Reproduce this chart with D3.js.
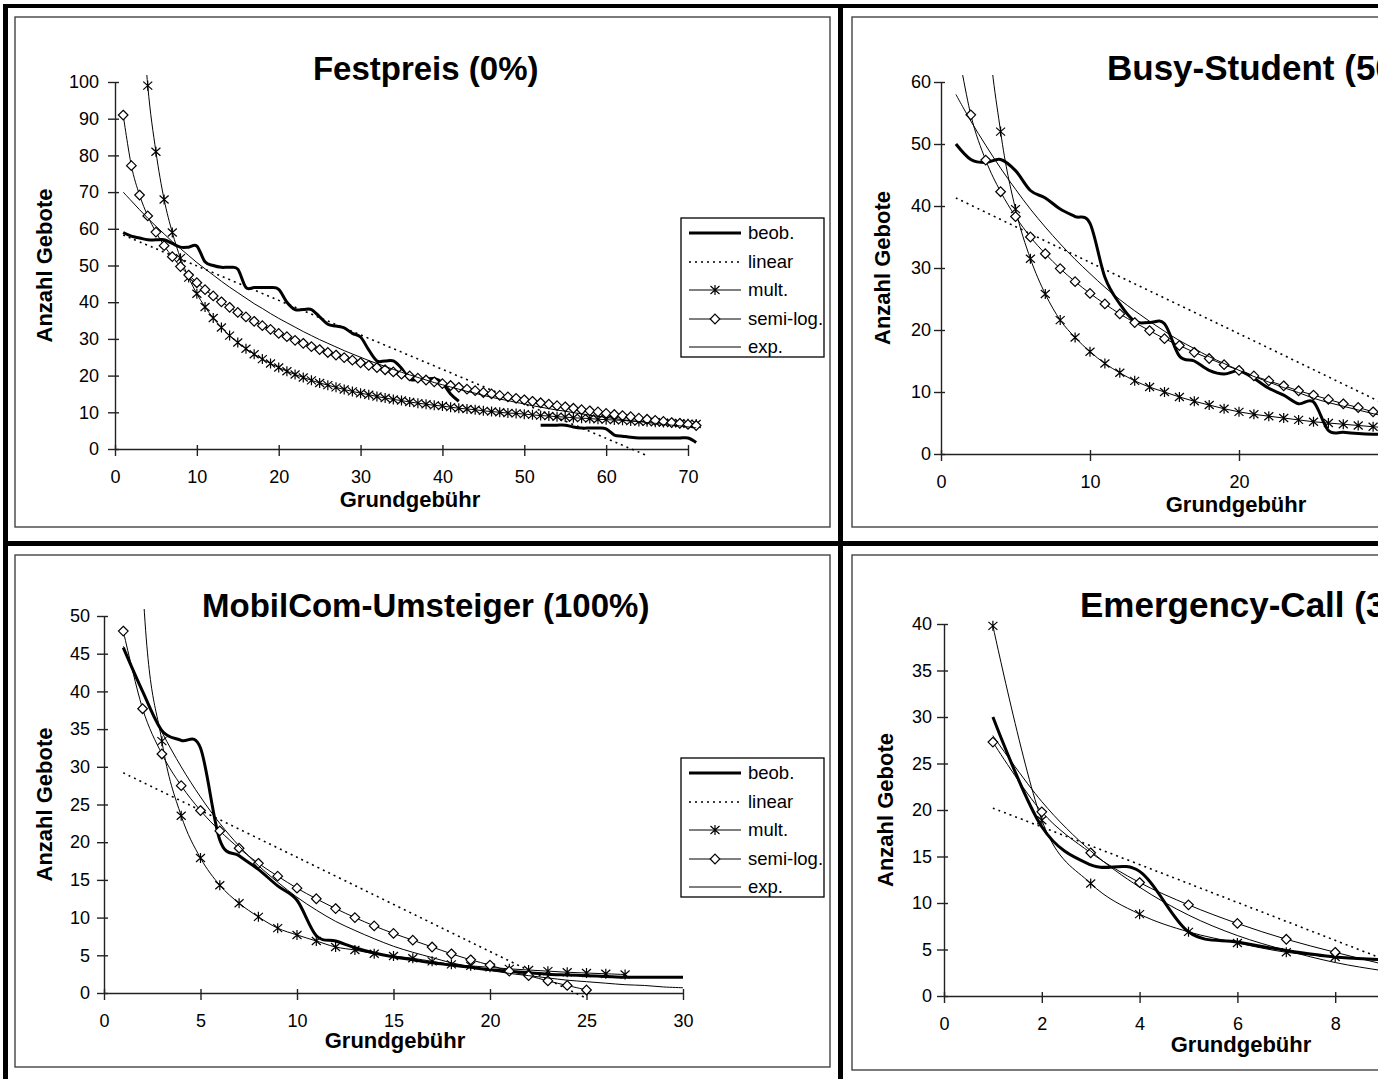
<!DOCTYPE html>
<html>
<head>
<meta charset="utf-8">
<script src="https://cdn.jsdelivr.net/npm/d3@7"></script>
<style>
  html, body { margin: 0; padding: 0; background: #fff; overflow: hidden; }
  svg { display: block; }
</style>
</head>
<body>
<svg id="chart" width="1378" height="1079"></svg>
<script>
(function () {
  const FONT = 'Arial, "Liberation Sans", sans-serif';
  const PAGE_W = 1378;
  const seriesNames = ['beob.', 'linear', 'mult.', 'semi-log.', 'exp.'];

  // --- Festpreis (0%) ---
  const fpX = d3.range(1, 72);
  const fpBeob = [59, 58, 57.5, 57, 57, 57, 56, 55, 55, 55.3,
    51, 50, 49.5, 49.5, 49, 44, 44, 44, 44, 43.5,
    40, 38, 38, 38, 36, 34, 33.5, 33, 31.5, 30.5,
    27, 24, 24, 24, 22, 19, 19, 19, 19.2, 18,
    15, 13, null, null, null, null, null, null, null, null,
    null, 6.5, 6.5, 6.5, 6.5, 6, 5.7, 5.7, 5.7, 5.5,
    3.8, 3.5, 3.2, 3, 3, 3, 3, 3, 3, 3,
    1.8];
  const fpLinX = [1, 10, 20, 30, 40, 50, 60, 65];
  const fpLinY = [58.3, 49.9, 40.5, 31.1, 21.7, 12.3, 2.9, -1.8];
  const fpMultX = d3.range(3, 72);
  const fpMult = [130, 99, 81, 68, 59, 52, 46.7, 42.3, 38.7, 35.7,
    33.1, 30.9, 29, 27.3, 25.8, 24.5, 23.3, 22.2, 21.2, 20.3,
    19.5, 18.7, 18, 17.4, 16.8, 16.2, 15.7, 15.2, 14.8, 14.3,
    13.9, 13.5, 13.2, 12.8, 12.5, 12.2, 11.9, 11.7, 11.4, 11.1,
    10.9, 10.7, 10.4, 10.2, 10, 9.8, 9.7, 9.5, 9.3, 9.1,
    9, 8.8, 8.7, 8.5, 8.4, 8.3, 8.1, 8, 7.9, 7.8,
    7.6, 7.5, 7.4, 7.3, 7.2, 7.1, 7, 6.9, 6.8];
  const fpSemi = [91, 77.2, 69.2, 63.5, 59.1, 55.4, 52.4, 49.7, 47.4, 45.3,
    43.4, 41.7, 40.1, 38.6, 37.2, 36, 34.8, 33.6, 32.6, 31.5,
    30.6, 29.6, 28.8, 27.9, 27.1, 26.3, 25.6, 24.9, 24.2, 23.5,
    22.8, 22.2, 21.6, 21, 20.4, 19.9, 19.3, 18.8, 18.3, 17.8,
    17.3, 16.8, 16.3, 15.9, 15.4, 15, 14.6, 14.2, 13.8, 13.4,
    13, 12.6, 12.2, 11.8, 11.5, 11.1, 10.7, 10.4, 10.1, 9.7,
    9.4, 9.1, 8.8, 8.4, 8.1, 7.8, 7.5, 7.2, 7, 6.7,
    6.4];
  const fpExp = [70, 67.6, 65.2, 62.9, 60.7, 58.6, 56.5, 54.6, 52.7, 50.8,
    49.1, 47.4, 45.7, 44.1, 42.6, 41.1, 39.6, 38.3, 36.9, 35.6,
    34.4, 33.2, 32, 30.9, 29.8, 28.8, 27.8, 26.8, 25.9, 25,
    24.1, 23.3, 22.5, 21.7, 20.9, 20.2, 19.5, 18.8, 18.1, 17.5,
    16.9, 16.3, 15.7, 15.2, 14.6, 14.1, 13.6, 13.2, 12.7, 12.3,
    11.8, 11.4, 11, 10.6, 10.3, 9.9, 9.6, 9.2, 8.9, 8.6,
    8.3, 8, 7.7, 7.5, 7.2, 7, 6.7, 6.5, 6.3, 6,
    5.8];

  // --- Busy-Student (50%) ---
  const bsX = d3.range(1, 34);
  const bsBeob = [50, 47.5, 47, 47.5, 45.7, 42.5, 41.3, 39.5, 38.3, 37.2,
    28.5, 24.2, 21.4, 21.2, 21, 15.8, 15, 13.5, 12.9, 13.4,
    12.2, 10.6, 9.5, 8.1, 8.4, 3.8, 3.5, 3.3, 3.2, 3.2,
    3.2, 3.2, 3.2];
  const bsLinX = [1, 10, 20, 30, 35];
  const bsLinY = [41.3, 30.9, 19.4, 7.8, 2.1];
  const bsMultX = d3.range(2, 34);
  const bsMult = [125, 74, 52, 39.5, 31.5, 25.8, 21.6, 18.8, 16.5, 14.6,
    13.1, 11.8, 10.8, 10, 9.2, 8.5, 7.9, 7.3, 6.8, 6.4,
    6.1, 5.8, 5.5, 5.2, 5, 4.8, 4.6, 4.4, 4.2, 4,
    3.9, 3.7];
  const bsSemi = [67.1, 54.7, 47.4, 42.3, 38.3, 35, 32.3, 29.9, 27.8, 25.9,
    24.2, 22.6, 21.2, 19.9, 18.6, 17.5, 16.4, 15.4, 14.4, 13.5,
    12.6, 11.8, 11, 10.2, 9.5, 8.8, 8.1, 7.5, 6.8, 6.2,
    5.6, 5.1, 4.5];
  const bsExp = [58, 53.7, 49.8, 46.1, 42.7, 39.5, 36.6, 33.9, 31.4, 29.1,
    26.9, 24.9, 23.1, 21.4, 19.8, 18.3, 17, 15.7, 14.6, 13.5,
    12.5, 11.6, 10.7, 9.9, 9, 8.3, 7.7, 7.1, 6.5, 6,
    5.6, 5.2, 4.8];

  // --- MobilCom-Umsteiger (100%) ---
  const mcX = d3.range(1, 31);
  const mcBeob = [45.8, 40, 34.8, 33.5, 32.5, 20.3, 18.2, 16.4, 14.2, 12.3,
    7.6, 6.9, 6, 5.3, 4.8, 4.4, 4, 3.7, 3.4, 3.1,
    2.9, 2.7, 2.5, 2.4, 2.3, 2.2, 2.1, 2.1, 2.1, 2.1];
  const mcLinX = [1, 10, 20, 25];
  const mcLinY = [29.2, 18, 5.5, -0.7];
  const mcMultX = d3.range(1, 28);
  const mcMult = [129, 54.5, 33.4, 23.5, 17.9, 14.3, 11.9, 10.1, 8.6, 7.7,
    6.9, 6.1, 5.7, 5.2, 4.9, 4.6, 4.2, 3.8, 3.6, 3.4,
    3.2, 3.05, 2.9, 2.75, 2.65, 2.55, 2.45];
  const mcSemiX = d3.range(1, 26);
  const mcSemi = [48, 37.7, 31.7, 27.5, 24.2, 21.5, 19.2, 17.2, 15.5, 13.9,
    12.5, 11.2, 10, 8.9, 7.9, 7, 6.1, 5.2, 4.4, 3.7,
    2.9, 2.3, 1.6, 1, 0.4];
  const mcExp = [46, 39.9, 34.6, 30, 26, 22.5, 19.5, 16.9, 14.7, 12.7,
    11, 9.5, 8.3, 7.2, 6.2, 5.4, 4.7, 4, 3.5, 3,
    2.6, 2.3, 2, 1.7, 1.5, 1.3, 1.1, 1, 0.8, 0.7];

  // --- Emergency-Call (30%) ---
  const ecX = d3.range(1, 11);
  const ecBeob = [30, 18.2, 14.1, 13.4, 6.9, 5.8, 4.9, 4.2, 3.9, 3.6];
  const ecLinX = [1, 5, 10];
  const ecLinY = [20.2, 12.1, 1.9];
  const ecMult = [39.8, 18.9, 12.1, 8.8, 6.9, 5.7, 4.7, 4.2, 3.8, 3.4];
  const ecSemi = [27.3, 19.8, 15.4, 12.2, 9.8, 7.8, 6.1, 4.7, 3.4, 2.2];
  const ecExp = [28, 20.9, 15.6, 11.7, 8.7, 6.5, 4.9, 3.6, 2.7, 2];

  const styles = {
    'beob.': { width: 3, dash: null, marker: null },
    'linear': { width: 1.6, dash: '2,4', marker: null },
    'mult.': { width: 1, dash: null, marker: 'star' },
    'semi-log.': { width: 1, dash: null, marker: 'diamond' },
    'exp.': { width: 1, dash: null, marker: null }
  };

  const markerPath = {
    star: 'M0,-5V5M-4.5,-4L4.5,4M-4.5,4L4.5,-4',
    diamond: 'M0,-4.8L4.8,0L0,4.8L-4.8,0Z'
  };

  const panels = [
    {
      title: 'Festpreis (0%)', titleX: 425.7, titleAnchor: 'middle', titleY: 80, titleSize: 33,
      box: [15, 17, 830, 527],
      xDomain: [0, 70], xRange: [115, 688], xTicks: d3.range(0, 71, 10),
      yDomain: [0, 100], yRange: [449, 82], yTicks: d3.range(0, 101, 10), yPad: 9,
      xTitleX: 410, xTitleY: 507, yTitleX: 52,
      legend: [681, 218],
      series: [[fpX, fpBeob], [fpLinX, fpLinY], [fpMultX, fpMult], [fpX, fpSemi], [fpX, fpExp]]
    },
    {
      title: 'Busy-Student (50%)', titleX: 1107, titleAnchor: 'start', titleY: 80, titleSize: 35,
      box: [852, 17, 1700, 527],
      xDomain: [0, 40], xRange: [941, 1537], xTicks: d3.range(0, 41, 10),
      yDomain: [0, 60], yRange: [454, 82], yTicks: d3.range(0, 61, 10), yPad: 3,
      xTitleX: 1236, xTitleY: 512, yTitleX: 890,
      legend: null,
      series: [[bsX, bsBeob], [bsLinX, bsLinY], [bsMultX, bsMult], [bsX, bsSemi], [bsX, bsExp]]
    },
    {
      title: 'MobilCom-Umsteiger (100%)', titleX: 425.7, titleAnchor: 'middle', titleY: 617, titleSize: 33,
      box: [15, 555, 830, 1067],
      xDomain: [0, 30], xRange: [104, 683], xTicks: d3.range(0, 31, 5),
      yDomain: [0, 50], yRange: [993, 616], yTicks: d3.range(0, 51, 5), yPad: 7,
      xTitleX: 395, xTitleY: 1048, yTitleX: 52,
      legend: [681, 758],
      series: [[mcX, mcBeob], [mcLinX, mcLinY], [mcMultX, mcMult], [mcSemiX, mcSemi], [mcX, mcExp]]
    },
    {
      title: 'Emergency-Call (30%)', titleX: 1080, titleAnchor: 'start', titleY: 617, titleSize: 35,
      box: [852, 555, 1700, 1070],
      xDomain: [0, 12], xRange: [944, 1530.8], xTicks: d3.range(0, 13, 2),
      yDomain: [0, 40], yRange: [996, 624], yTicks: d3.range(0, 41, 5), yPad: 5,
      xTitleX: 1241, xTitleY: 1052, yTitleX: 893,
      legend: null,
      series: [[ecX, ecBeob], [ecLinX, ecLinY], [ecX, ecMult], [ecX, ecSemi], [ecX, ecExp]]
    }
  ];

  const svg = d3.select('#chart').attr('font-family', FONT);
  const defs = svg.append('defs');
  svg.append('rect').attr('width', PAGE_W).attr('height', 1079).attr('fill', '#fff');

  // outer frame of the four cells
  const frame = svg.append('g').attr('fill', '#000');
  frame.append('rect').attr('x', 3).attr('y', 4).attr('width', 1375).attr('height', 4);
  frame.append('rect').attr('x', 3).attr('y', 4).attr('width', 5).attr('height', 1075);
  frame.append('rect').attr('x', 838).attr('y', 4).attr('width', 5).attr('height', 1075);
  frame.append('rect').attr('x', 3).attr('y', 541).attr('width', 1375).attr('height', 5);

  panels.forEach((p, i) => drawPanel(p, i));

  function drawPanel(p, i) {
    const g = svg.append('g').attr('class', 'panel');
    const [bx0, by0, bx1, by1] = p.box;

    g.append('rect')
      .attr('x', bx0).attr('y', by0)
      .attr('width', bx1 - bx0).attr('height', by1 - by0)
      .attr('fill', '#fff').attr('stroke', '#444').attr('stroke-width', 1.4);

    const x = d3.scaleLinear().domain(p.xDomain).range(p.xRange);
    const y = d3.scaleLinear().domain(p.yDomain).range(p.yRange);

    const clipId = 'clip' + i;
    defs.append('clipPath').attr('id', clipId)
      .append('rect')
      .attr('x', bx0 + 2).attr('y', y(p.yDomain[1]) - 7)
      .attr('width', bx1 - bx0 - 4).attr('height', by1 - 2 - (y(p.yDomain[1]) - 7));

    // title
    g.append('text')
      .attr('x', p.titleX).attr('y', p.titleY)
      .attr('text-anchor', p.titleAnchor)
      .attr('font-size', p.titleSize).attr('font-weight', 'bold')
      .text(p.title);

    // axes (ticks past the page edge are not shown in the cropped original)
    const xTicks = p.xTicks.filter(t => x(t) < PAGE_W - 8);
    const xAxis = g.append('g')
      .attr('transform', `translate(0,${y(0)})`)
      .call(d3.axisBottom(x).tickValues(xTicks).tickSize(7).tickSizeOuter(0).tickPadding(14));
    xAxis.selectAll('.tick line').attr('y1', -4);

    const yAxis = g.append('g')
      .attr('transform', `translate(${x(0)},0)`)
      .call(d3.axisLeft(y).tickValues(p.yTicks).tickSize(7).tickSizeOuter(0).tickPadding(p.yPad));
    yAxis.selectAll('.tick line').attr('x1', 4);

    [xAxis, yAxis].forEach(a => {
      a.attr('font-family', FONT).attr('font-size', 18);
      a.selectAll('path, line').attr('stroke', '#222').attr('stroke-width', 1.4);
      a.selectAll('text').attr('fill', '#000');
    });

    // axis titles
    g.append('text')
      .attr('x', p.xTitleX).attr('y', p.xTitleY)
      .attr('text-anchor', 'middle')
      .attr('font-size', 22).attr('font-weight', 'bold')
      .text('Grundgebühr');

    const yMid = (p.yRange[0] + p.yRange[1]) / 2;
    g.append('text')
      .attr('transform', `translate(${p.yTitleX},${yMid}) rotate(-90)`)
      .attr('text-anchor', 'middle')
      .attr('font-size', 22).attr('font-weight', 'bold')
      .text('Anzahl Gebote');

    // series
    const plot = g.append('g').attr('clip-path', `url(#${clipId})`);
    const line = d3.line()
      .defined(d => d.y !== null)
      .x(d => x(d.x))
      .y(d => y(d.y))
      .curve(d3.curveCatmullRom.alpha(0));

    p.series.forEach(([xs, ys], k) => {
      const st = styles[seriesNames[k]];
      const pts = xs.map((xv, j) => ({ x: xv, y: ys[j] }));
      plot.append('path')
        .datum(pts)
        .attr('d', line)
        .attr('fill', 'none')
        .attr('stroke', '#000')
        .attr('stroke-width', st.width)
        .attr('stroke-dasharray', st.dash)
        .attr('stroke-linejoin', 'round');

      if (st.marker) {
        plot.append('g')
          .selectAll('path')
          .data(pts.filter(d => d.y !== null))
          .join('path')
          .attr('transform', d => `translate(${x(d.x)},${y(d.y)})`)
          .attr('d', markerPath[st.marker])
          .attr('fill', st.marker === 'diamond' ? '#fff' : 'none')
          .attr('stroke', '#000')
          .attr('stroke-width', 1.2);
      }
    });

    if (p.legend) drawLegend(g, p.legend[0], p.legend[1]);
  }

  function drawLegend(g, lx, ly) {
    const lg = g.append('g').attr('transform', `translate(${lx},${ly})`);
    lg.append('rect')
      .attr('width', 143).attr('height', 139)
      .attr('fill', '#fff').attr('stroke', '#000').attr('stroke-width', 1.3);
    const rowY = [15, 44, 72, 101, 129];
    seriesNames.forEach((name, k) => {
      const st = styles[name];
      const row = lg.append('g').attr('transform', `translate(0,${rowY[k]})`);
      row.append('line')
        .attr('x1', 8).attr('x2', 60)
        .attr('stroke', '#000')
        .attr('stroke-width', st.width)
        .attr('stroke-dasharray', st.dash);
      if (st.marker) {
        row.append('path')
          .attr('transform', 'translate(34,0)')
          .attr('d', markerPath[st.marker])
          .attr('fill', st.marker === 'diamond' ? '#fff' : 'none')
          .attr('stroke', '#000').attr('stroke-width', 1.2);
      }
      row.append('text')
        .attr('x', 67).attr('dy', '0.35em')
        .attr('font-size', 18.5)
        .text(name);
    });
  }
})();
</script>
</body>
</html>
